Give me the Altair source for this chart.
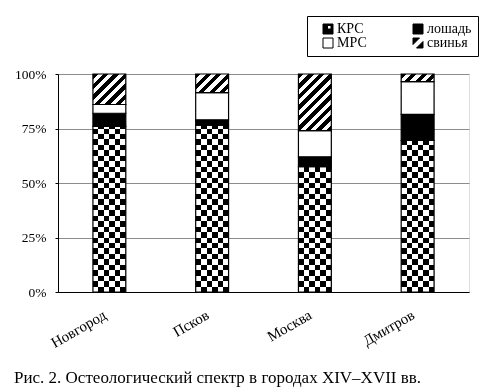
import altair as alt
import pandas as pd

cities = ["Новгород", "Псков", "Москва", "Дмитров"]
categories = ["КРС", "лошадь", "МРС", "свинья"]
legend_order = ["КРС", "МРС", "лошадь", "свинья"]
krs = [76.0, 76.5, 57.5, 69.5]
horse = [6.0, 2.5, 4.5, 12.0]
mrs = [4.0, 12.5, 12.0, 15.0]
pig = [14.0, 8.5, 26.0, 3.5]
y_ticks = [0, 25, 50, 75, 100]
caption = "Рис. 2. Остеологический спектр в городах XIV–XVII вв."

W, H = 411, 218
BAR_FRAC = 0.32
FONT = "Liberation Serif"

rows = []
for i, c in enumerate(cities):
    base = 0.0
    for cat, vals in zip(categories, [krs, horse, mrs, pig]):
        v = vals[i]
        rows.append(dict(city=c, cat=cat, value=v, y0=base, y1=base + v))
        base += v
df = pd.DataFrame(rows)


def stripes(n, x2, y2):
    stops = []
    for k in range(n):
        col = "black" if k % 2 == 0 else "white"
        stops.append(alt.GradientStop(offset=k / n, color=col))
        stops.append(alt.GradientStop(offset=(k + 1) / n, color=col))
    return alt.LinearGradient(gradient="linear", stops=stops, x1=0, y1=0, x2=x2, y2=y2)


def hatch(value, period=10.5, frac=0.5):
    w = W / len(cities) * BAR_FRAC
    h = value / 100 * H
    L = w + h
    k = L * w / (w * w + h * h)
    stops = []
    n = int(L / period) + 2
    for j in range(n):
        a = j * period
        b = a + period * frac
        c = (j + 1) * period
        for off, col in [(a, "black"), (b, "black"), (b, "white"), (c, "white")]:
            stops.append(alt.GradientStop(offset=min(off / L, 1.0), color=col))
    return alt.LinearGradient(gradient="linear", stops=stops, x1=0, y1=0, x2=k, y2=k * h / w)


xenc = alt.X("city:N", sort=cities, title=None,
             scale=alt.Scale(paddingInner=1 - BAR_FRAC, paddingOuter=(1 - BAR_FRAC) / 2),
             axis=alt.Axis(labelAngle=330, ticks=False, domainColor="black", labelColor="black",
                           labelFont=FONT, labelFontSize=15, labelPadding=15, labelOffset=-8,
                           grid=False))
yscale = alt.Scale(domain=[0, 100], nice=False)
yaxis = alt.Axis(values=y_ticks, labelExpr="datum.value + '%'", tickSize=3, labelPadding=9,
                 domainColor="black", tickColor="black", gridColor="#8c8c8c", labelColor="black",
                 labelFont=FONT, labelFontSize=13.5, title=None)

base = alt.Chart(df)

paths = [
    "M-1,-1H1V1H-1Z M-0.1,-0.7V0H0.6V-0.7Z",
    "M-1,-1H1V1H-1Z",
    "M-1,-1H1V1H-1Z",
    "M-1,-1H0.3L-1,0.3Z M1,-0.3V1H-0.3Z",
]
leg = alt.Legend(title=None, orient="none", legendX=249, legendY=-58, columns=2,
                 values=legend_order,
                 labelExpr="datum.label == 'лошадь' || datum.label == 'свинья' ? datum.label + '\u00a0\u00a0\u00a0\u00a0\u00a0' : datum.label",
                 strokeColor="black", fillColor="white", padding=6, symbolSize=100,
                 symbolStrokeColor="black", symbolStrokeWidth=1, labelFont=FONT,
                 labelFontSize=14, labelColor="black", columnPadding=36, rowPadding=-1,
                 symbolOffset=8, labelOffset=2)
legend_layer = base.mark_point(filled=True, size=0, opacity=1).encode(
    x=xenc,
    y=alt.Y("y1:Q", scale=yscale, axis=yaxis),
    color=alt.Color("cat:N", sort=categories,
                    scale=alt.Scale(domain=categories, range=["black", "black", "white", "black"]), legend=leg),
    shape=alt.Shape("cat:N", sort=categories,
                    scale=alt.Scale(domain=categories, range=paths), legend=leg),
)

full = base.transform_filter(alt.datum.cat == "свинья").transform_calculate(zero="0")
checker_h = full.mark_bar(fill=stripes(40, 0, 1)).encode(
    x=xenc, y=alt.Y("y1:Q", scale=yscale, axis=yaxis), y2="zero:Q")
checker_v = full.mark_bar(fill=stripes(6, 1, 0), blend="difference").encode(
    x=xenc, y=alt.Y("y1:Q", scale=yscale, axis=yaxis), y2="zero:Q")

krs_outline = base.transform_filter(alt.datum.cat == "КРС").mark_bar(
    fillOpacity=0, stroke="black", strokeWidth=1.2).encode(
    x=xenc, y=alt.Y("y1:Q", scale=yscale, axis=yaxis), y2="y0:Q")
horse_layer = base.transform_filter(alt.datum.cat == "лошадь").mark_bar(
    fill="black", stroke="black", strokeWidth=1.2).encode(
    x=xenc, y=alt.Y("y1:Q", scale=yscale, axis=yaxis), y2="y0:Q")
mrs_layer = base.transform_filter(alt.datum.cat == "МРС").mark_bar(
    fill="white", stroke="black", strokeWidth=1.2).encode(
    x=xenc, y=alt.Y("y1:Q", scale=yscale, axis=yaxis), y2="y0:Q")

pig_layers = []
for c, v in zip(cities, pig):
    pig_layers.append(
        base.transform_filter((alt.datum.cat == "свинья") & (alt.datum.city == c)).mark_bar(
            fill=hatch(v), stroke="black", strokeWidth=1.2).encode(
            x=xenc, y=alt.Y("y1:Q", scale=yscale, axis=yaxis), y2="y0:Q")
    )

chart = alt.layer(
    legend_layer, checker_h, checker_v, krs_outline, horse_layer, mrs_layer, *pig_layers
).properties(
    width=W, height=H,
    autosize=alt.AutoSizeParams(type="none"),
    padding={"left": 50, "top": 66, "right": 17, "bottom": 100},
    title=alt.TitleParams(caption, orient="bottom", anchor="start", frame="group", dx=-44,
                          offset=20, font=FONT, fontSize=17, fontWeight="normal", color="black"),
).configure_view(stroke="black", strokeWidth=1).configure(background="white")

chart.save("out.html", embed_options={"renderer": "svg", "actions": False})
